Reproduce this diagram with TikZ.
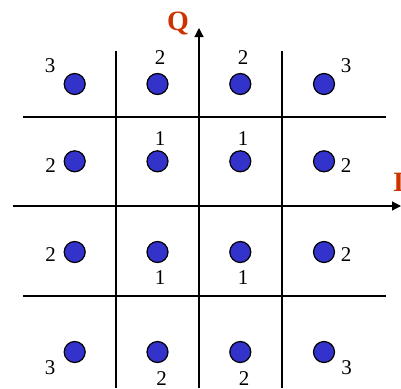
\documentclass[tikz,border=0pt]{standalone}
\usepackage{fontspec}
\setmainfont{Liberation Serif}
\usetikzlibrary{arrows.meta, positioning}
\definecolor{dotblue}{RGB}{51,51,204}
\definecolor{axisred}{RGB}{204,51,0}

\begin{document}
\begin{tikzpicture}[
    x=1pt, y=-1pt,
    dot/.style={circle, draw, line width=1.2pt, fill=dotblue, minimum size=21pt, inner sep=0pt},
    num/.style={inner sep=0pt, font=\fontsize{21}{21}\selectfont},
    axlabel/.style={inner sep=0pt, font=\fontsize{28}{28}\selectfont\bfseries, text=axisred},
    gridline/.style={line width=1.2pt},
    axisarrow/.style={line width=1.2pt, -{Triangle[length=9pt, width=9pt]}}
]
\useasboundingbox (0,0) rectangle (401,388);

% decision grid
\draw[gridline] (116,51) -- (116,388);
\draw[gridline] (282,51) -- (282,388);
\draw[gridline] (23,117) -- (386,117);
\draw[gridline] (23,296) -- (386,296);

% axes
\coordinate (ileft) at (13,206);
\coordinate (iright) at (401,206);
\coordinate (qbottom) at (199,388);
\coordinate (qtop) at (199,28);
\draw[axisarrow] (ileft) -- (iright);
\draw[axisarrow] (qbottom) -- (qtop);
\node[axlabel, anchor=base] (qlabel) at (178,30) {Q};
\node[axlabel, anchor=base west] (ilabel) at (393,191) {I};

% constellation points
\node[dot] (d11) at (74.7,84) {};
\node[dot] (d12) at (157.5,84) {};
\node[dot] (d13) at (240.3,84) {};
\node[dot] (d14) at (324,84) {};
\node[dot] (d21) at (74.7,161.3) {};
\node[dot] (d22) at (157.5,161.3) {};
\node[dot] (d23) at (240.3,161.3) {};
\node[dot] (d24) at (324,161.3) {};
\node[dot] (d31) at (74.7,252) {};
\node[dot] (d32) at (157.5,252) {};
\node[dot] (d33) at (240.3,252) {};
\node[dot] (d34) at (324,252) {};
\node[dot] (d41) at (74.7,352) {};
\node[dot] (d42) at (157.5,352) {};
\node[dot] (d43) at (240.3,352) {};
\node[dot] (d44) at (324,352) {};

% weights
\node[num] (n11) at (50,66) {3};
\node[num] (n12) at (160,58) {2};
\node[num] (n13) at (243,58) {2};
\node[num] (n14) at (346,66) {3};
\node[num] (n21) at (50.7,166) {2};
\node[num] (n22) at (160,139) {1};
\node[num] (n23) at (243,139) {1};
\node[num] (n24) at (346,166) {2};
\node[num] (n31) at (50.7,255) {2};
\node[num] (n32) at (160,278) {1};
\node[num] (n33) at (243,278) {1};
\node[num] (n34) at (346,255) {2};
\node[num] (n41) at (50,368) {3};
\node[num] (n42) at (161.7,379) {2};
\node[num] (n43) at (244,379) {2};
\node[num] (n44) at (346.7,368) {3};
\end{tikzpicture}
\end{document}
